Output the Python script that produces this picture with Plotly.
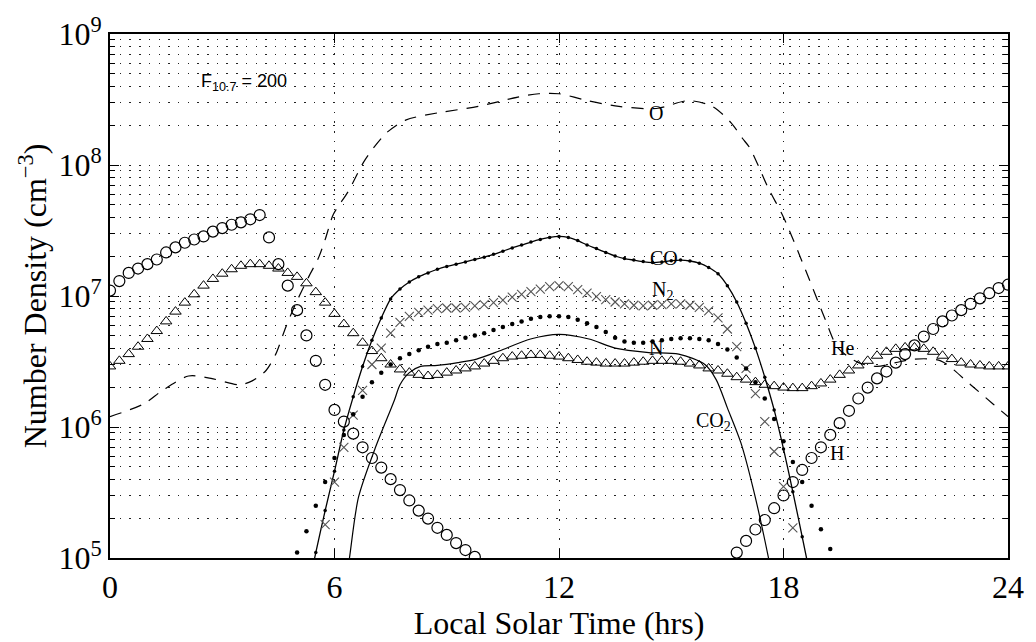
import math
import plotly.graph_objects as go

# ---- number densities (cm^-3) versus local solar time (hrs) ----
STEP = 0.25  # marker spacing along local time

# each marker series: list of (start hour, values at STEP spacing)
H_SEGMENTS = [
    (0.0, [1.1e7, 1.3e7, 1.5e7, 1.62e7, 1.75e7, 1.9e7, 2.15e7, 2.35e7, 2.55e7, 2.7e7,
           2.85e7, 3.1e7, 3.3e7, 3.5e7, 3.65e7, 3.85e7, 4.15e7,
           2.8e7, 1.75e7, 1.2e7, 7.8e6, 5.0e6, 3.2e6, 2.1e6,
           1.35e6, 1.1e6, 8.9e5, 7.0e5, 5.8e5, 4.9e5, 4.0e5, 3.3e5, 2.75e5, 2.3e5,
           2.0e5, 1.7e5, 1.5e5, 1.3e5, 1.15e5, 1.02e5]),
    (16.75, [1.1e5, 1.35e5, 1.65e5, 1.95e5, 2.4e5, 3.0e5,
             3.8e5, 4.7e5, 5.8e5, 7.0e5, 8.7e5, 1.07e6, 1.33e6, 1.65e6, 2.0e6, 2.35e6,
             2.65e6, 3.1e6, 3.6e6, 4.2e6, 4.9e6, 5.6e6, 6.4e6, 7.1e6, 7.8e6, 8.7e6,
             9.6e6, 1.05e7, 1.15e7, 1.22e7]),
]

HE_SEGMENTS = [
    (0.0, [2.9e6, 3.2e6, 3.6e6, 4.1e6, 4.7e6, 5.4e6, 6.4e6, 7.6e6, 8.9e6, 1.03e7,
           1.2e7, 1.35e7, 1.48e7, 1.6e7, 1.7e7, 1.75e7, 1.75e7, 1.7e7, 1.62e7, 1.5e7,
           1.4e7, 1.25e7, 1.07e7, 8.9e6,
           7.3e6, 6.1e6, 5.2e6, 4.4e6, 3.8e6, 3.35e6, 3.0e6, 2.75e6, 2.6e6, 2.5e6,
           2.45e6, 2.5e6, 2.6e6, 2.7e6, 2.8e6, 2.9e6, 3.05e6, 3.2e6, 3.35e6, 3.45e6,
           3.5e6, 3.55e6, 3.55e6, 3.5e6,
           3.45e6, 3.35e6, 3.25e6, 3.15e6, 3.1e6, 3.05e6, 3.05e6, 3.05e6, 3.1e6, 3.15e6,
           3.2e6, 3.2e6, 3.2e6, 3.15e6, 3.05e6, 2.95e6, 2.8e6, 2.7e6, 2.55e6, 2.4e6,
           2.3e6, 2.2e6, 2.1e6, 2.05e6,
           2.0e6, 1.98e6, 1.98e6, 2.05e6, 2.15e6, 2.3e6, 2.5e6, 2.7e6, 2.95e6, 3.2e6,
           3.5e6, 3.75e6, 3.95e6, 4.05e6, 4.05e6, 3.95e6, 3.75e6, 3.5e6, 3.3e6, 3.1e6,
           3.0e6, 2.95e6, 2.9e6, 2.9e6, 2.9e6]),
]

N2_SEGMENTS = [
    (5.75, [1.8e5, 3.8e5, 7.0e5, 1.23e6, 1.9e6, 3.0e6, 4.0e6, 5.2e6, 6.3e6,
            7.0e6, 7.5e6, 7.8e6, 8.0e6, 8.1e6, 8.1e6, 8.2e6, 8.4e6,
            8.6e6, 8.9e6, 9.3e6, 9.8e6, 1.03e7, 1.08e7, 1.13e7, 1.18e7,
            1.2e7, 1.18e7, 1.12e7, 1.05e7, 9.9e6, 9.4e6, 9.0e6, 8.7e6,
            8.5e6, 8.4e6, 8.5e6, 8.6e6, 8.7e6, 8.7e6, 8.5e6, 8.2e6,
            7.7e6, 6.8e6, 5.6e6, 4.1e6, 2.8e6, 1.8e6, 1.1e6, 6.5e5,
            3.5e5, 1.7e5]),
]

N_SEGMENTS = [
    (5.0, [1.1e5, 1.6e5, 2.5e5, 3.8e5,
           5.8e5, 8.7e5, 1.25e6, 1.7e6, 2.2e6, 2.6e6, 3.0e6, 3.35e6,
           3.6e6, 3.85e6, 4.1e6, 4.3e6, 4.4e6, 4.6e6, 4.8e6, 5.0e6,
           5.2e6, 5.5e6, 5.8e6, 6.1e6, 6.4e6, 6.7e6, 6.9e6, 7.0e6,
           7.0e6, 6.9e6, 6.6e6, 6.2e6, 5.8e6, 5.3e6, 4.8e6, 4.5e6,
           4.4e6, 4.4e6, 4.5e6, 4.6e6, 4.7e6, 4.75e6, 4.75e6, 4.7e6,
           4.6e6, 4.3e6, 3.9e6, 3.4e6, 2.8e6, 2.2e6, 1.65e6, 1.15e6,
           7.8e5, 5.4e5, 3.8e5, 2.5e5, 1.66e5, 1.17e5]),
]

CO_SEGMENTS = [
    (5.25, [5.0e4, 1.1e5, 2.3e5,
            4.6e5, 9.5e5, 1.7e6, 2.9e6, 4.6e6, 6.8e6, 9.5e6, 1.13e7,
            1.28e7, 1.4e7, 1.5e7, 1.6e7, 1.68e7, 1.75e7, 1.82e7, 1.9e7,
            1.98e7, 2.08e7, 2.2e7, 2.33e7, 2.45e7, 2.58e7, 2.7e7, 2.8e7,
            2.85e7, 2.8e7, 2.65e7, 2.45e7, 2.3e7, 2.15e7, 2.02e7, 1.93e7,
            1.88e7, 1.83e7, 1.8e7, 1.82e7, 1.86e7, 1.88e7, 1.85e7, 1.78e7,
            1.65e7, 1.48e7, 1.2e7, 9.0e6, 6.2e6, 4.0e6, 2.4e6, 1.35e6,
            6.8e5, 3.2e5, 1.45e5, 6.5e4]),
]

# line-only species, sampled at irregular hours
O_HOURS = [0.0, 0.9, 1.4, 2.1, 2.7, 3.45, 3.8, 4.17, 4.43, 4.7, 4.96, 5.31, 5.57, 5.76,
           5.97, 6.37, 6.82, 7.38, 7.9, 8.76, 9.84, 10.9, 11.46, 12.0, 12.76, 13.6,
           14.6, 15.46, 16.1, 16.6, 16.9, 17.1, 17.6, 18.0, 18.6, 19.1, 19.46, 20.0,
           20.5, 21.0, 21.5, 22.2, 23.0, 23.6, 24.0]
O_VALUES = [1.2e6, 1.5e6, 1.9e6, 2.45e6, 2.35e6, 2.1e6, 2.25e6, 2.7e6, 3.6e6, 5.8e6,
            8.7e6, 1.4e7, 1.95e7, 2.75e7, 4.2e7, 6.3e7, 1.1e8, 1.75e8, 2.2e8, 2.5e8,
            2.8e8, 3.3e8, 3.5e8, 3.5e8, 3.1e8, 2.8e8, 2.7e8, 3.1e8, 2.8e8, 2.1e8,
            1.6e8, 1.35e8, 6.6e7, 4.0e7, 1.55e7, 6.8e6, 4.0e6, 3.1e6, 2.9e6, 3.1e6,
            3.3e6, 3.2e6, 2.1e6, 1.5e6, 1.2e6]

CO2_HOURS = [6.25, 6.4, 6.64, 7.08, 7.6, 7.75, 8.0, 8.3, 8.75, 9.3, 9.8, 10.4, 11.24,
             12.0, 12.8, 13.5, 14.4, 15.2, 15.9, 16.2, 16.5, 16.86, 17.2, 17.6, 17.8]
CO2_VALUES = [5.0e4, 1.0e5, 2.9e5, 6.8e5, 1.6e6, 2.1e6, 2.6e6, 2.9e6, 2.95e6, 3.1e6,
              3.3e6, 3.8e6, 4.7e6, 5.1e6, 4.7e6, 4.0e6, 3.7e6, 3.6e6, 3.0e6, 2.3e6,
              1.4e6, 7.6e5, 3.3e5, 1.0e5, 5.0e4]

# curve labels: (text, hour, density, x anchor)
CURVE_LABELS = [
    ("O", 14.6, 2.5e8, "center"),
    ("CO", 14.8, 1.95e7, "center"),
    ("N<sub>2</sub>", 14.42, 1.1e7, "left"),
    ("N", 14.6, 4.0e6, "center"),
    ("CO<sub>2</sub>", 15.62, 1.1e6, "left"),
    ("He", 19.57, 4.0e6, "center"),
    ("H", 19.43, 6.3e5, "center"),
]

X_TICKS = [0, 6, 12, 18, 24]
Y_TICKS = [1e5, 1e6, 1e7, 1e8, 1e9]
Y_TICK_TEXT = ["10<sup>5</sup>", "10<sup>6</sup>", "10<sup>7</sup>",
               "10<sup>8</sup>", "10<sup>9</sup>"]

SERIF = "Liberation Serif, Times New Roman, serif"
SANS = "Liberation Sans, Arial, sans-serif"
INK = "black"


def expand(segments):
    xs, ys = [], []
    for start, vals in segments:
        if xs:
            xs.append(None)
            ys.append(None)
        for k, v in enumerate(vals):
            xs.append(start + STEP * k)
            ys.append(v)
    return xs, ys


fig = go.Figure()

# O: dashed line
fig.add_trace(go.Scatter(x=O_HOURS, y=O_VALUES, mode="lines",
                         line=dict(color=INK, width=1.2, dash="12px,9px", shape="spline",
                                   smoothing=0.8)))
# CO2: plain solid line
fig.add_trace(go.Scatter(x=CO2_HOURS, y=CO2_VALUES, mode="lines",
                         line=dict(color=INK, width=1.2, shape="spline", smoothing=0.8)))
# CO: solid line with small dots
x, y = expand(CO_SEGMENTS)
fig.add_trace(go.Scatter(x=x, y=y, mode="lines+markers",
                         line=dict(color=INK, width=1.3, shape="spline", smoothing=0.6),
                         marker=dict(symbol="circle", size=3.5, color=INK)))
# He: open triangles
x, y = expand(HE_SEGMENTS)
fig.add_trace(go.Scatter(x=x, y=y, mode="markers",
                         marker=dict(symbol="triangle-up-open", size=10,
                                     color=INK, line=dict(width=1.0, color=INK))))
# N2: crosses
x, y = expand(N2_SEGMENTS)
fig.add_trace(go.Scatter(x=x, y=y, mode="markers",
                         marker=dict(symbol="x-thin-open", size=9,
                                     color="#555555", line=dict(width=1.1, color="#555555"))))
# N: filled dots
x, y = expand(N_SEGMENTS)
fig.add_trace(go.Scatter(x=x, y=y, mode="markers",
                         marker=dict(symbol="circle", size=4.5, color=INK)))
# H: open circles
x, y = expand(H_SEGMENTS)
fig.add_trace(go.Scatter(x=x, y=y, mode="markers",
                         marker=dict(symbol="circle-open", size=11,
                                     color=INK, line=dict(width=1.2, color=INK))))

for text, hx, dens, anchor in CURVE_LABELS:
    fig.add_annotation(x=hx, y=math.log10(dens), text=text, showarrow=False,
                       xanchor=anchor, yanchor="middle",
                       font=dict(family=SERIF, size=20, color=INK))

fig.add_annotation(x=2.39, y=8.63, text="F<sub>10.7</sub> = 200", showarrow=False,
                   xanchor="left", yanchor="middle",
                   font=dict(family=SANS, size=18, color=INK))

minor_vals = [k * 10 ** n for n in range(5, 9) for k in range(2, 10)]
GRID_DASH = "1.5px,8.2px"

fig.update_layout(
    width=1036, height=642,
    margin=dict(l=110, r=22, t=31, b=82),
    paper_bgcolor="white", plot_bgcolor="white",
    showlegend=False,
    xaxis=dict(
        range=[0, 24], tickvals=X_TICKS, ticktext=[str(v) for v in X_TICKS],
        ticks="inside", ticklen=9, tickwidth=1.3, tickcolor=INK,
        showline=True, linecolor=INK, linewidth=1.6, mirror="allticks",
        showgrid=True, gridcolor="#222222", gridwidth=1.4, griddash=GRID_DASH,
        zeroline=False,
        tickfont=dict(family=SERIF, size=32, color=INK),
        title=dict(text="Local Solar Time (hrs)", standoff=2,
                   font=dict(family=SERIF, size=32, color=INK)),
    ),
    yaxis=dict(
        type="log", range=[5, 9], tickvals=Y_TICKS, ticktext=Y_TICK_TEXT,
        ticks="inside", ticklen=9, tickwidth=1.3, tickcolor=INK,
        showline=True, linecolor=INK, linewidth=1.6, mirror="allticks",
        showgrid=True, gridcolor="#222222", gridwidth=1.4, griddash=GRID_DASH,
        zeroline=False,
        tickfont=dict(family=SERIF, size=32, color=INK),
        minor=dict(tickmode="array", tickvals=minor_vals, ticks="inside", ticklen=5,
                   tickwidth=1.1, tickcolor=INK, showgrid=True, gridcolor="#222222",
                   gridwidth=1.4, griddash=GRID_DASH),
        title=dict(text="Number Density (cm<sup>−3</sup>)", standoff=2,
                   font=dict(family=SERIF, size=32, color=INK)),
    ),
)

fig.write_html("out.html")
